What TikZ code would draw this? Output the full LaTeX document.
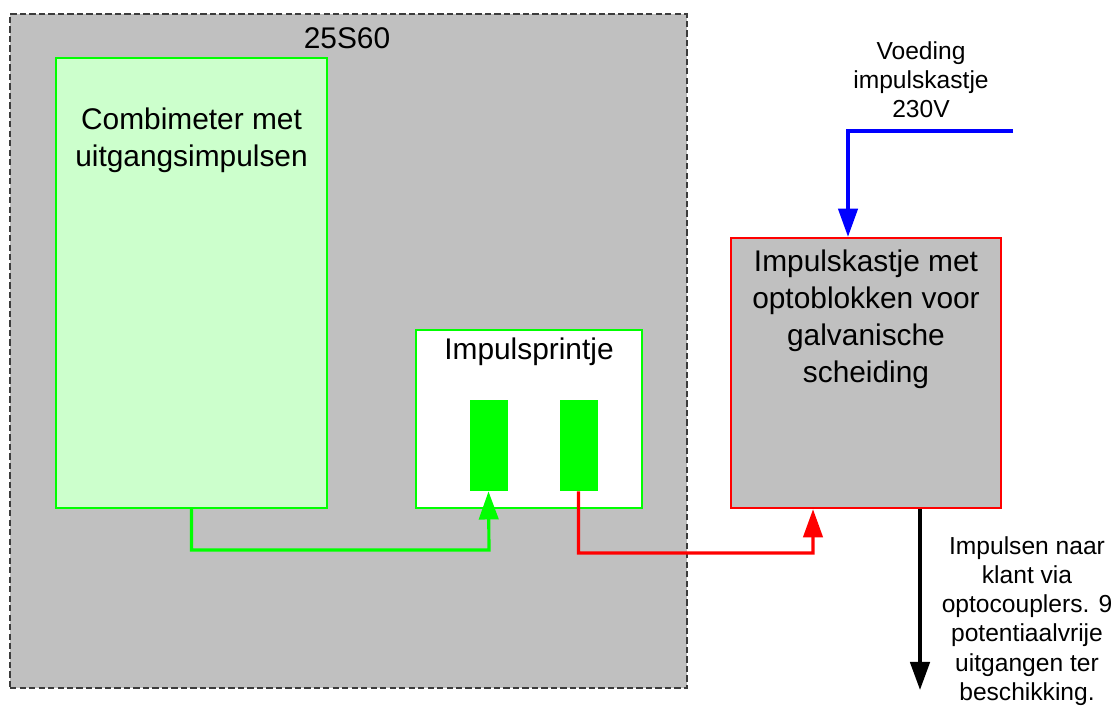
\documentclass[tikz,border=0pt]{standalone}
\usepackage{fontspec}
\setmainfont{Liberation Sans}
\usetikzlibrary{positioning,arrows.meta,calc}
\definecolor{kGray}{RGB}{192,192,192}
\definecolor{kDash}{RGB}{60,60,60}
\definecolor{kGreen}{RGB}{0,255,0}
\definecolor{kMint}{RGB}{204,255,204}
\definecolor{kRed}{RGB}{255,0,0}
\definecolor{kBlue}{RGB}{0,0,255}
\tikzset{
    base/.style={font=\fontsize{17}{21}\selectfont, align=center, inner sep=0pt},
    small/.style={font=\fontsize{14}{16.6}\selectfont, align=center, inner sep=0pt},
    frame/.style={rectangle, draw=kDash, fill=kGray, line width=0.9pt, dash pattern=on 3.6pt off 1.8pt},
    meter/.style={rectangle, draw=kGreen, fill=kMint, line width=1pt},
    board/.style={rectangle, draw=kGreen, fill=white, line width=1pt},
    pin/.style={rectangle, fill=kGreen, minimum width=0.76cm, minimum height=1.82cm},
    optobox/.style={rectangle, draw=kRed, fill=kGray, line width=1.4pt},
    flow/.style={-{Triangle[length=16pt,width=11pt]}, line width=1.8pt},
}
\begin{document}
\begin{tikzpicture}[x=0.02cm, y=-0.02cm]
  \useasboundingbox (0,0) rectangle (1118,707);

  % Outer box
  \node[frame, minimum width=13.54cm, minimum height=13.48cm] (unit) at (348.5,351) {};
  \node[base] (unitname) at (347,38) {25S60};

  % Meter
  \node[meter, minimum width=5.42cm, minimum height=9cm] (combi) at (191.5,283) {};
  \node[base] (combitext) at (191.5,140) {Combimeter met\\uitgangsimpulsen};

  % Pulse board
  \node[board, minimum width=4.52cm, minimum height=3.56cm] (print) at (529,419) {};
  \node[base] (printtext) at (529,352) {Impulsprintje};
  \node[pin] (pinA) at (488.5,445.5) {};
  \node[pin] (pinB) at (578.5,445.5) {};

  % Pulse box
  \node[optobox, minimum width=5.4cm, minimum height=5.4cm] (kastje) at (866,373) {};
  \node[base] (kastjetext) at (866,319) {Impulskastje met\\optoblokken voor\\galvanische\\scheiding};

  % Labels
  \node[small] (voeding) at (921,80) {Voeding\\impulskastje\\230V};
  \node[small] (uitgang) at (1027,621) {Impulsen naar\\klant via\\optocouplers. 9\\potentiaalvrije\\uitgangen ter\\beschikking.};

  % Arrows
  \coordinate (gbend) at (489,550);
  \coordinate (rbend) at (813,553);
  \coordinate (mains) at (1013,131);
  \coordinate (out) at (920,690);
  \draw[flow, kGreen] (combi.south) |- (gbend) -- (pinA.south);
  \draw[flow, kRed] (pinB.south) |- (rbend) -- ([xshift=-1.06cm]kastje.south);
  \draw[flow, kBlue] (mains) -| ([xshift=-0.36cm]kastje.north);
  \draw[flow, black, line width=2.2pt] ([xshift=1.08cm]kastje.south) -- (out);
\end{tikzpicture}
\end{document}
